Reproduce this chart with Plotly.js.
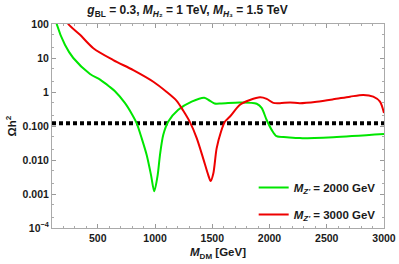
<!DOCTYPE html>
<html>
<head>
<meta charset="utf-8">
<script src="https://cdn.plot.ly/plotly-3.0.1.min.js"></script>
<style>
  html, body { margin: 0; padding: 0; background: white; }
  #plot { width: 399px; height: 264px; }
</style>
</head>
<body>
<div id="plot"></div>
<script>
// relic density vs dark matter mass
const massGreen = [130, 141, 214, 286, 432, 520, 600, 650, 738, 796, 840, 883, 927, 965, 993, 1023, 1043, 1072, 1116, 1203, 1320, 1430, 1480, 1520, 1580, 1742, 1888, 1931, 1975, 2019, 2062, 2150, 2266, 2557, 3000];
const omegaGreen = [150, 100, 24, 10, 3.4, 2.3, 1.45, 1.05, 0.47, 0.23, 0.12, 0.044, 0.014, 0.0036, 0.0012, 0.0036, 0.014, 0.055, 0.135, 0.3, 0.52, 0.68, 0.55, 0.46, 0.46, 0.49, 0.45, 0.34, 0.15, 0.077, 0.05, 0.047, 0.044, 0.047, 0.058];

const massRed = [230, 242, 345, 461, 635, 810, 985, 1102, 1189, 1247, 1305, 1364, 1421, 1465, 1486, 1509, 1538, 1576, 1611, 1655, 1742, 1829, 1917, 1975, 2033, 2091, 2179, 2266, 2412, 2557, 2703, 2819, 2906, 2965, 3000];
const omegaRed = [130, 100, 48, 19.4, 8.7, 4.4, 2.0, 1.0, 0.55, 0.28, 0.13, 0.044, 0.011, 0.0036, 0.0024, 0.004, 0.022, 0.068, 0.135, 0.19, 0.42, 0.58, 0.7, 0.63, 0.48, 0.47, 0.49, 0.47, 0.52, 0.61, 0.73, 0.82, 0.73, 0.52, 0.24];

const planckMass = [100, 3000];
const planckOmega = [0.12, 0.12];

const yTickVals = [100, 10, 1, 0.1, 0.01, 0.001, 0.0001];
const yTickText = ['100', '10', '1', '0.100', '0.010', '0.001', '10<sup>−4</sup>'];

const xTickVals = [500, 1000, 1500, 2000, 2500, 3000];

const fontFamily = 'Liberation Sans, Arial, sans-serif';
const tickFont = {family: fontFamily, size: 10.5, color: '#1a1a1a', weight: 'bold'};
const labelFont = {family: fontFamily, size: 11.5, color: '#1a1a1a', weight: 'bold'};

const data = [
    {
        type: 'scatter',
        x: planckMass,
        y: planckOmega,
        mode: 'lines',
        line: {color: 'black', width: 4, dash: '4px,3px'},
        showlegend: false,
        hoverinfo: 'skip'
    },
    {
        type: 'scatter',
        x: massGreen,
        y: omegaGreen,
        mode: 'lines',
        name: '<i>M</i><sub><i>Z\'</i></sub> = 2000 GeV',
        legendgroup: 'g',
        line: {color: '#00e600', width: 2, shape: 'spline', smoothing: 0.8}
    },
    {
        type: 'scatter',
        x: massRed,
        y: omegaRed,
        mode: 'lines',
        name: '<i>M</i><sub><i>Z\'</i></sub> = 3000 GeV',
        legendgroup: 'r',
        line: {color: '#ee0000', width: 2, shape: 'spline', smoothing: 0.8}
    }
];

const layout = {
    width: 399,
    height: 264,
    margin: {l: 52, r: 15, t: 24, b: 36},
    paper_bgcolor: 'white',
    plot_bgcolor: 'white',
    font: tickFont,
    title: {
        text: '<i>g</i><sub>BL</sub> = 0.3, <i>M</i><sub><i>H</i>₂</sub> = 1 TeV, <i>M</i><sub><i>H</i>₃</sub> = 1.5 TeV',
        font: {family: fontFamily, size: 12, color: '#1a1a1a', weight: 'bold'},
        xref: 'container',
        x: 0.47,
        xanchor: 'center',
        y: 0.962,
        yanchor: 'middle'
    },
    xaxis: {
        range: [100, 3000],
        tickvals: xTickVals,
        ticks: 'inside',
        ticklen: 4,
        tickcolor: '#999',
        showline: true,
        linecolor: '#aaa',
        linewidth: 1,
        mirror: 'allticks',
        showgrid: false,
        zeroline: false,
        minor: {dtick: 100, ticks: 'inside', ticklen: 2, tickcolor: '#aaa'},
        tickfont: tickFont,
        title: {text: '<i>M</i><sub>DM</sub> [GeV]', font: labelFont, standoff: 5}
    },
    yaxis: {
        type: 'log',
        range: [-4, 2],
        tickvals: yTickVals,
        ticktext: yTickText,
        ticks: 'inside',
        ticklen: 4,
        tickcolor: '#999',
        showline: true,
        linecolor: '#aaa',
        linewidth: 1,
        mirror: 'allticks',
        showgrid: false,
        zeroline: false,
        minor: {ticks: 'inside', ticklen: 2, tickcolor: '#aaa'},
        tickfont: tickFont,
        title: {text: 'Ωh<sup>2</sup>', font: labelFont, standoff: 3}
    },
    legend: {
        x: 0.99,
        xanchor: 'right',
        y: 0.27,
        yanchor: 'top',
        bgcolor: 'rgba(0,0,0,0)',
        font: labelFont,
        tracegroupgap: 8,
        itemwidth: 30
    },
    showlegend: true
};

Plotly.newPlot('plot', data, layout, {displayModeBar: false, staticPlot: true});
</script>
</body>
</html>
